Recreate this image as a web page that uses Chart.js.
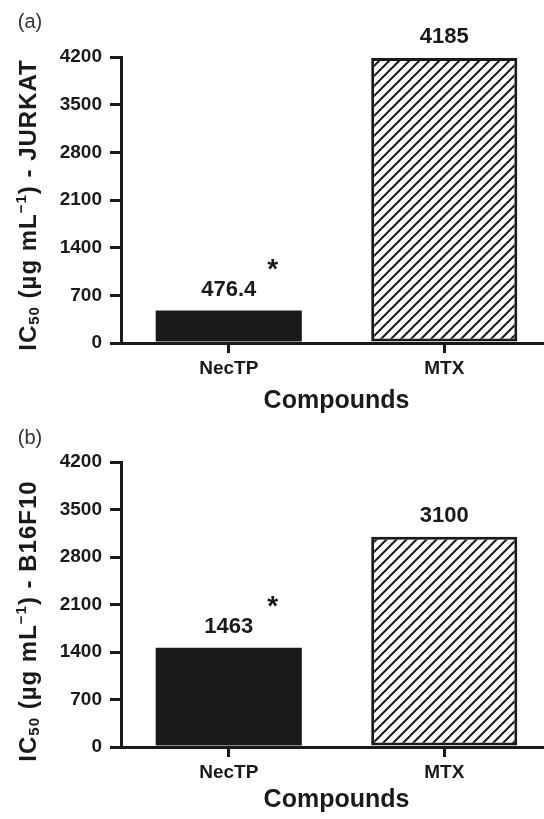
<!DOCTYPE html>
<html>
<head>
<meta charset="utf-8">
<script src="https://cdn.jsdelivr.net/npm/chart.js@4.4.1/dist/chart.umd.min.js"></script>
<style>
  html, body { margin: 0; padding: 0; background: #fff; overflow: hidden; }
  .panel { position: absolute; left: 0; width: 552px; }
</style>
</head>
<body>
<div class="panel" style="top:0px;height:416px"><canvas id="chartA" width="552" height="416"></canvas></div>
<div class="panel" style="top:416px;height:403px"><canvas id="chartB" width="552" height="403"></canvas></div>
<script>
const categories = ['NecTP', 'MTX'];
const jurkatValues = [476.4, 4185];
const b16f10Values = [1463, 3100];
const jurkatLabels = ['476.4', '4185'];
const b16f10Labels = ['1463', '3100'];
const significance = ['*', ''];
const yTicks = [0, 700, 1400, 2100, 2800, 3500, 4200];

const ink = '#1a1a1a';
const fontFam = '"Liberation Sans", Arial, Helvetica, sans-serif';

// diagonal hatch for the MTX bar
function makeHatch() {
    const c = document.createElement('canvas');
    c.width = 10; c.height = 10;
    const g = c.getContext('2d');
    g.fillStyle = '#fff';
    g.fillRect(0, 0, 10, 10);
    g.strokeStyle = ink;
    g.lineWidth = 2;
    g.beginPath();
    g.moveTo(-5, 5); g.lineTo(5, -5);
    g.moveTo(-5, 15); g.lineTo(15, -5);
    g.moveTo(5, 15); g.lineTo(15, 5);
    g.stroke();
    return g.createPattern(c, 'repeat');
}

function drawVerticalTitle(ctx, cx, cy, parts, size) {
    ctx.save();
    ctx.letterSpacing = '1px';
    const small = Math.round(size * 0.64);
    let total = 0;
    parts.forEach(p => {
        ctx.font = `bold ${p.sub || p.sup ? small : size}px ${fontFam}`;
        p.w = ctx.measureText(p.t).width;
        total += p.w;
    });
    ctx.translate(cx, cy);
    ctx.rotate(-Math.PI / 2);
    ctx.fillStyle = ink;
    ctx.textBaseline = 'alphabetic';
    ctx.textAlign = 'left';
    let x = -total / 2;
    const base = size * 0.36;
    parts.forEach(p => {
        ctx.font = `bold ${p.sub || p.sup ? small : size}px ${fontFam}`;
        let y = base;
        if (p.sub) y += size * 0.14;
        if (p.sup) y -= size * 0.42;
        ctx.fillText(p.t, x, y);
        x += p.w;
    });
    ctx.restore();
}

function makeChart(id, values, valueLabels, cellLine, panelLetter, padTop, titlePadBottom, xHeight) {
    const overlay = {
        id: 'overlay',
        afterDatasetsDraw(chart) {
            const ctx = chart.ctx;
            const xs = chart.scales.x, ys = chart.scales.y;
            ctx.save();
            ctx.fillStyle = ink;
            ctx.textAlign = 'center';
            ctx.textBaseline = 'middle';
            values.forEach((v, i) => {
                const px = xs.getPixelForValue(i);
                const py = ys.getPixelForValue(v);
                ctx.font = `bold 22px ${fontFam}`;
                ctx.fillText(valueLabels[i], px, py - 21);
                if (significance[i]) {
                    ctx.font = `bold 28px ${fontFam}`;
                    ctx.fillText(significance[i], px + 44, py - 40);
                }
            });
            ctx.font = `20px ${fontFam}`;
            ctx.fillStyle = '#333';
            ctx.fillText(panelLetter, 30, 22);
            ctx.restore();
            drawVerticalTitle(ctx, 27, 205, [
                { t: 'IC' }, { t: '50', sub: true }, { t: ' (\u00b5g mL' },
                { t: '\u22121', sup: true }, { t: ') - ' + cellLine }
            ], 24);
        }
    };

    return new Chart(document.getElementById(id), {
        type: 'bar',
        data: {
            labels: categories,
            datasets: [{
                data: values,
                backgroundColor: [ink, makeHatch()],
                borderColor: ink,
                borderWidth: [0, 3],
                borderSkipped: false,
                categoryPercentage: 1,
                barPercentage: 0.678
            }]
        },
        options: {
            responsive: false,
            animation: false,
            devicePixelRatio: 1,
            layout: { padding: { top: padTop, left: 0, right: 0, bottom: 0 } },
            plugins: { legend: { display: false }, tooltip: { enabled: false } },
            scales: {
                x: {
                    offset: true,
                    grid: { display: true, offset: false, drawOnChartArea: false, drawTicks: true, tickLength: 10, lineWidth: 3, color: ink },
                    border: { display: true, color: ink, width: 3 },
                    ticks: { color: ink, font: { family: fontFam, size: 19, weight: 'bold' }, padding: 4, maxRotation: 0 },
                    title: { display: true, text: 'Compounds', color: ink, font: { family: fontFam, size: 25, weight: 'bold' }, padding: { top: 0, bottom: titlePadBottom } },
                    afterFit(scale) { scale.height = xHeight; }
                },
                y: {
                    min: 0,
                    max: 4200,
                    afterBuildTicks(scale) { scale.ticks = yTicks.map(v => ({ value: v })); },
                    grid: { display: true, drawOnChartArea: false, drawTicks: true, tickLength: 11, lineWidth: 3, color: ink },
                    border: { display: true, color: ink, width: 3 },
                    ticks: { color: ink, font: { family: fontFam, size: 19, weight: 'bold' }, padding: 8, callback: v => String(v) },
                    afterFit(scale) { scale.width = 121; }
                }
            }
        },
        plugins: [overlay]
    });
}

makeChart('chartA', jurkatValues, jurkatLabels, 'JURKAT', '(a)', 57, 0, 73);
makeChart('chartB', b16f10Values, b16f10Labels, 'B16F10', '(b)', 46, 4, 72);
</script>
</body>
</html>
